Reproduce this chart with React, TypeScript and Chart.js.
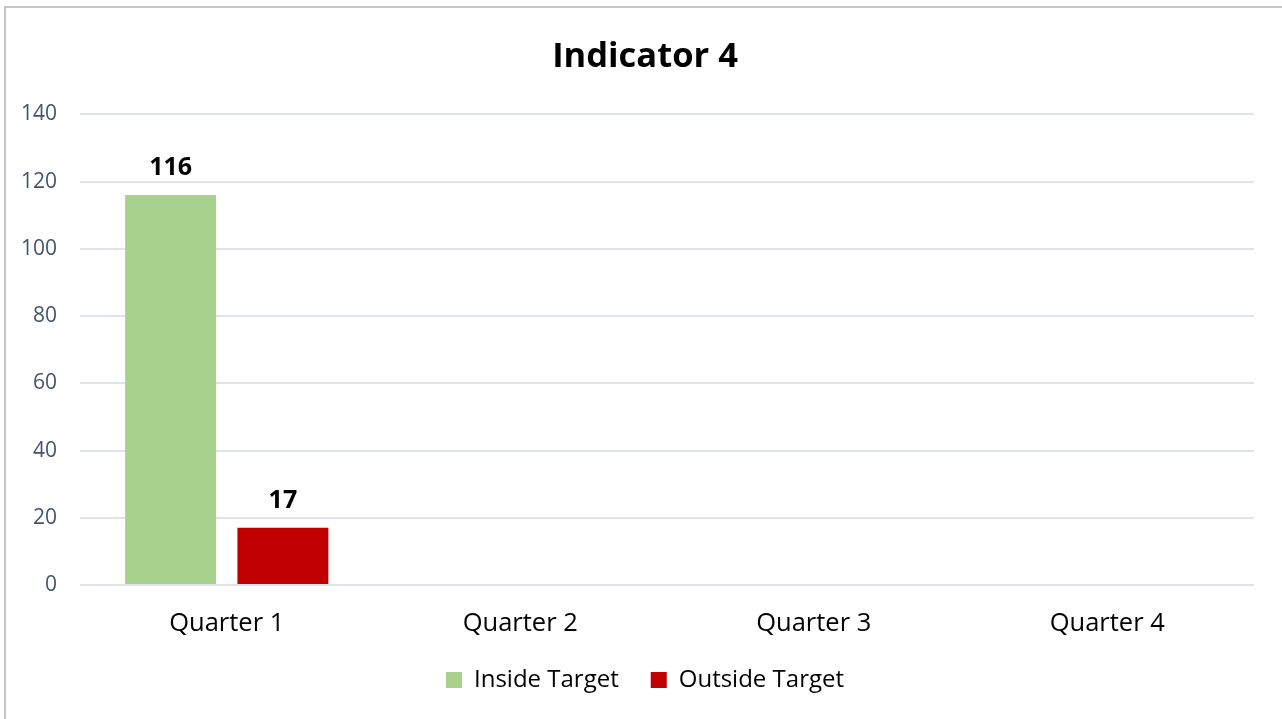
import React, { useEffect, useRef } from "react";
import { Chart, registerables } from "chart.js";

Chart.register(...registerables);

const categories = ["Quarter 1", "Quarter 2", "Quarter 3", "Quarter 4"];
const insideTarget: (number | null)[] = [116, null, null, null];
const outsideTarget: (number | null)[] = [17, null, null, null];
const yTicks = [0, 20, 40, 60, 80, 100, 120, 140];

const FONT = "'Open Sans', sans-serif";

const backgroundAndBorder = {
  id: "bgBorder",
  beforeDraw(chart: any) {
    const { ctx, width, height } = chart;
    ctx.save();
    ctx.fillStyle = "#ffffff";
    ctx.fillRect(0, 0, width, height);
    ctx.fillStyle = "#c4c4c4";
    ctx.fillRect(4, 6, width - 4, 2);
    ctx.fillRect(4, 6, 2, height - 6);
    ctx.restore();
  },
};

const valueLabels = {
  id: "valueLabels",
  afterDatasetsDraw(chart: any) {
    const { ctx } = chart;
    ctx.save();
    ctx.font = `bold 25px ${FONT}`;
    ctx.fillStyle = "#000000";
    ctx.textAlign = "center";
    ctx.textBaseline = "alphabetic";
    chart.data.datasets.forEach((ds: any, i: number) => {
      const meta = chart.getDatasetMeta(i);
      meta.data.forEach((bar: any, j: number) => {
        const v = ds.data[j];
        if (v === null || v === undefined) return;
        ctx.fillText(String(v), bar.x, bar.y - 20);
      });
    });
    ctx.restore();
  },
};

export default function App() {
  const ref = useRef<HTMLCanvasElement | null>(null);
  useEffect(() => {
    if (!ref.current) return;
    const chart = new Chart(ref.current, {
      type: "bar",
      data: {
        labels: categories,
        datasets: [
          {
            label: "Inside Target",
            data: insideTarget,
            backgroundColor: "#a9d18e",
            categoryPercentage: 0.765,
            barPercentage: 0.81,
          },
          {
            label: "Outside Target",
            data: outsideTarget,
            backgroundColor: "#c00000",
            categoryPercentage: 0.765,
            barPercentage: 0.81,
          },
        ],
      },
      options: {
        animation: false,
        responsive: false,
        maintainAspectRatio: false,
        layout: { padding: { left: 8, right: 0, top: 0, bottom: 17 } },
        plugins: {
          title: {
            display: true,
            text: "Indicator 4",
            color: "#000000",
            font: { family: FONT, size: 34.5, weight: "bold" },
            padding: { top: 36, bottom: 37 },
          },
          legend: {
            display: true,
            position: "bottom",
            labels: {
              color: "#000000",
              font: { family: FONT, size: 24 },
              boxWidth: 16,
              boxHeight: 16,
              padding: 32,
            },
          },
          tooltip: { enabled: false },
        },
        scales: {
          x: {
            grid: { display: false, drawTicks: false },
            border: { display: false },
            ticks: {
              color: "#000000",
              font: { family: FONT, size: 25.5 },
              padding: 23,
            },
            afterFit(axis: any) {
              axis.height = 51;
            },
          },
          y: {
            position: "left",
            min: 0,
            max: 140,
            afterBuildTicks(axis: any) {
              axis.ticks = yTicks.map((v) => ({ value: v }));
            },
            grid: { color: "#dfe3ea", lineWidth: 2, drawTicks: false },
            border: { display: false },
            ticks: {
              color: "#44546a",
              font: { family: FONT, size: 21 },
              padding: 23,
            },
            afterFit(axis: any) {
              axis.width = 72;
            },
          },
          yRight: {
            position: "right",
            display: true,
            min: 0,
            max: 140,
            grid: { display: false, drawTicks: false },
            border: { display: false },
            ticks: { display: false },
            afterFit(axis: any) {
              axis.width = 28;
            },
          },
        },
      },
      plugins: [backgroundAndBorder, valueLabels],
    });
    return () => chart.destroy();
  }, []);
  return (
    <div style={{ position: "fixed", left: 0, top: 0, width: 1282, height: 719 }}>
      <canvas ref={ref} width={1282} height={719} style={{ display: "block" }} />
    </div>
  );
}
